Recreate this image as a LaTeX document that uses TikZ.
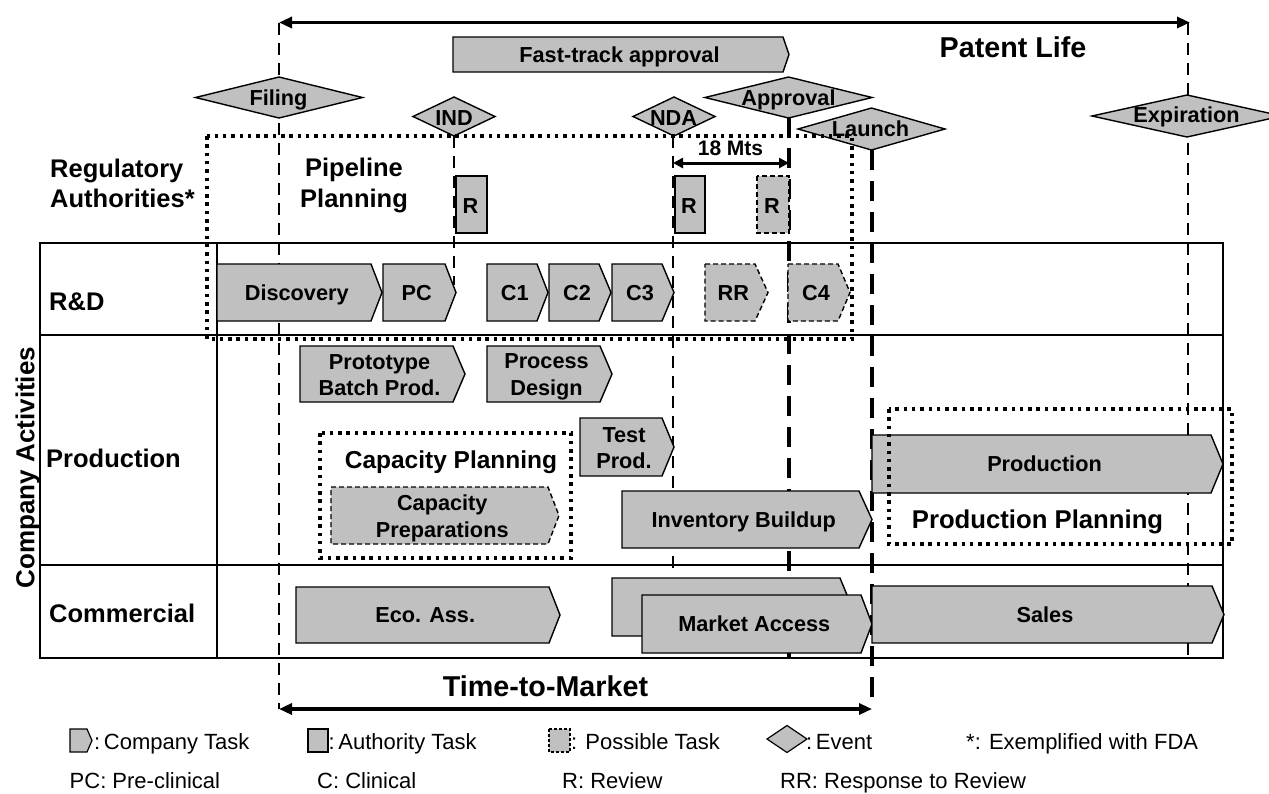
\documentclass[tikz,border=0pt]{standalone}
\usepackage{fontspec}
\setmainfont{Liberation Sans}
\usetikzlibrary{arrows.meta}
\definecolor{taskgray}{HTML}{C0C0C0}

\tikzset{
  tbl/.style={line width=1.3pt, draw=black},
  tbox/.style={draw=black, line width=1.4pt, fill=taskgray, line join=miter},
  tposs/.style={tbox, dash pattern=on 5pt off 3pt},
  evline/.style={line width=2.3pt, dash pattern=on 12pt off 8pt},
  evthick/.style={line width=3.6pt, dash pattern=on 20pt off 11pt},
  dotbox/.style={line width=4pt, dash pattern=on 3.5pt off 4.8pt},
  span/.style={line width=3.2pt, {Triangle[length=13pt,width=11pt]}-{Triangle[length=13pt,width=11pt]}},
  spansmall/.style={line width=3pt, {Triangle[length=10pt,width=10pt]}-{Triangle[length=10pt,width=10pt]}},
  lbS/.style={inner sep=0pt, font=\fontsize{21.7}{26.7}\selectfont\bfseries, text height=15.5pt, text depth=0pt},
  lbSm/.style={inner sep=0pt, font=\fontsize{21.7}{26.7}\selectfont\bfseries, align=center},
  lbM/.style={inner sep=0pt, font=\fontsize{25.5}{31}\selectfont\bfseries, text height=18.3pt, text depth=0pt},
  lbMm/.style={inner sep=0pt, font=\fontsize{25.5}{30.5}\selectfont\bfseries},
  lbL/.style={inner sep=0pt, font=\fontsize{28.7}{34}\selectfont\bfseries, text height=20.5pt, text depth=0pt},
  lg/.style={inner sep=0pt, font=\fontsize{22}{26}\selectfont, text height=15.75pt, text depth=0pt, anchor=west},
}

% chevron task: name, box style, x0, y0, x1 (body end), tip x, y1, label options, label
\newcommand\ctask[9]{%
  \draw[#2] (#3,#4) -- (#5,#4) -- (#6,{(#4+#7)/2}) -- (#5,#7) -- (#3,#7) -- cycle;
  \node[#8] (#1) at ({(2*#3+#5+#6)/4},{(#4+#7)/2}) {#9};
}
% event diamond: name, cx, cy, half width, half height, label x, label y, label
\newcommand\evdia[8]{%
  \draw[tbox] (#2-#4,#3) -- (#2,#3-#5) -- (#2+#4,#3) -- (#2,#3+#5) -- cycle;
  \node[lbS] (#1) at (#6,#7) {#8};
}
% review box: name, box style, x0, y0, x1, y1
\newcommand\rbox[6]{%
  \draw[#2] (#3,#4) rectangle (#5,#6);
  \node[lbS] (#1) at ({(#3+#5)/2-1},{(#4+#6)/2+1.5}) {R};
}

\begin{document}
\begin{tikzpicture}[x=1pt,y=-1pt]
\useasboundingbox (0,0) rectangle (1269,793);

% lane table
\draw[tbl] (40,243) rectangle (1223,658);
\draw[tbl] (40,335) -- (1223,335);
\draw[tbl] (40,565) -- (1223,565);
\draw[tbl] (217,243) -- (217,658);

% time markers
\coordinate (plL) at (279,22.5);
\coordinate (plR) at (1190,22.5);
\coordinate (ttL) at (279,709);
\coordinate (ttR) at (872,709);
\coordinate (expTop) at (1188,22.5);
\coordinate (expBot) at (1188,655);
\coordinate (indTop) at (454,136);
\coordinate (indBot) at (454,285);
\coordinate (ndaTop) at (673,136);
\coordinate (ndaBot) at (673,572);
\coordinate (appTop) at (789,117);
\coordinate (appBot) at (789,658);
\coordinate (lauTop) at (872,150);
\coordinate (lauBot) at (872,705);
\coordinate (mtsL) at (673,163);
\coordinate (mtsR) at (789,163);

\draw[evline] (plL) -- (ttL);
\draw[evline] (expTop) -- (expBot);
\draw[evline] (indTop) -- (indBot);
\draw[evline] (ndaTop) -- (ndaBot);
\draw[evthick] (appTop) -- (appBot);
\draw[evthick] (lauTop) -- (lauBot);

\draw[span] (plL) -- (plR);
\draw[span] (ttL) -- (ttR);
\draw[spansmall] (mtsL) -- (mtsR);

\node[lbL] (patent) at (1013,47.5) {Patent Life};
\node[lbL] (ttm) at (545.5,686) {Time-to-Market};
\node[inner sep=0pt, font=\fontsize{21}{25}\selectfont\bfseries, text height=15pt, text depth=0pt] (mts) at (730.5,148) {18 Mts};

% lane labels
\node[lbMm, anchor=west, align=left] (reg) at (50,183.4) {Regulatory\\Authorities*};
\node[lbM, anchor=west] (rd) at (49,301) {R\&D};
\node[lbM, anchor=west] (prodlane) at (46,458) {Production};
\node[lbM, anchor=west] (comlane) at (49,613) {Commercial};
\node[inner sep=0pt, font=\fontsize{26}{31}\selectfont\bfseries, text height=18.6pt, text depth=0pt, rotate=90] (company) at (25,467.5) {Company Activities};
\node[lbMm, align=center] (pipe) at (354,185.3) {Pipeline\\Planning};

% regulatory tasks
\ctask{fast}{tbox}{453}{37}{783}{789}{72}{lbS}{Fast-track approval}
\rbox{rind}{tbox}{456}{176}{487}{233}
\rbox{rnda}{tbox}{675}{176}{705}{233}
\rbox{rapp}{tposs}{757}{176}{789}{233}

% R&D
\ctask{disc}{tbox}{217}{264}{371}{382}{321}{lbS}{Discovery}
\ctask{pc}{tbox}{383}{264}{445}{456}{321}{lbS}{PC}
\ctask{c1}{tbox}{487}{264}{537}{548}{321}{lbS}{C1}
\ctask{c2}{tbox}{549}{264}{599}{611}{321}{lbS}{C2}
\ctask{c3}{tbox}{612}{264}{662}{674}{321}{lbS}{C3}
\ctask{rr}{tposs}{705}{264}{755}{768}{321}{lbS}{RR}
\ctask{c4}{tposs}{788}{264}{838}{850}{321}{lbS}{C4}

% production
\ctask{proto}{tbox}{300}{346}{453}{465}{402}{lbSm, yshift=-1pt}{Prototype\\Batch Prod.}
\ctask{procdes}{tbox}{487}{346}{600}{612}{402}{lbSm, yshift=-3pt}{Process\\Design}
\ctask{testprod}{tbox}{580}{418}{662}{674}{476}{lbSm, yshift=-1pt}{Test\\Prod.}
\ctask{capprep}{tposs}{331}{487}{548}{559}{544}{lbSm, yshift=-2.6pt}{Capacity\\Preparations}
\ctask{invbuild}{tbox}{622}{491}{859}{872}{548}{lbS}{Inventory Buildup}
\ctask{production}{tbox}{872}{435}{1211}{1223}{493}{lbS}{Production}

% commercial
\ctask{ecoass}{tbox}{296}{587}{549}{560}{643}{lbS}{Eco. Ass.}
\draw[tbox] (612,578) -- (840,578) -- (852,607) -- (840,636) -- (612,636) -- cycle;
\ctask{mkt}{tbox}{642}{595}{861}{872}{653}{lbS}{Market Access}
\ctask{sales}{tbox}{872}{586}{1212}{1224}{643}{lbS}{Sales}

% events
\evdia{filing}{279}{97.5}{83.5}{20.5}{278.5}{98}{Filing}
\evdia{ind}{454}{116.5}{41}{19.5}{454}{117.5}{IND}
\evdia{nda}{674}{116.5}{41}{19.5}{673.5}{117.5}{NDA}
\evdia{approval}{788.5}{97.5}{83.5}{20.5}{788.5}{98}{Approval}
\evdia{launch}{871.5}{129}{73.5}{21}{870.5}{128.7}{Launch}
\evdia{expiration}{1187}{116}{95}{21}{1186.5}{115}{Expiration}

% planning scopes
\draw[dotbox] (207,136) rectangle (852,339);
\draw[dotbox] (320,433) rectangle (571,558);
\draw[dotbox] (889,409) rectangle (1232,544);
\node[inner sep=0pt, font=\fontsize{24.5}{29}\selectfont\bfseries, text height=17.5pt, text depth=0pt] (capplan) at (451,460) {Capacity Planning};
\node[inner sep=0pt, font=\fontsize{25.7}{30}\selectfont\bfseries, text height=18.4pt, text depth=0pt] (prodplan) at (1037.5,519.5) {Production Planning};

% legend
\draw[tbox, line width=1.2pt] (70,729) -- (87,729) -- (92,740.5) -- (87,752) -- (70,752) -- cycle;
\node[lg] (lgcomp) at (94,741.5) {:\,Company Task};
\draw[tbox, line width=1.2pt] (308,729) rectangle (328,752);
\node[lg] (lgauth) at (328.5,741.5) {:\,Authority Task};
\draw[tbox, line width=1.2pt, dash pattern=on 3pt off 2pt] (549,729) rectangle (570,752);
\node[lg] (lgposs) at (571,741.5) {: Possible Task};
\draw[tbox, line width=1.2pt] (767,739) -- (787,725.5) -- (807,739) -- (787,752.5) -- cycle;
\node[lg] (lgevent) at (806,741.5) {:\,Event};
\node[lg] (lgfda) at (966,741.5) {*: Exemplified with FDA};
\node[lg] (lgpc) at (69.5,780.5) {PC: Pre-clinical};
\node[lg] (lgc) at (317,780.5) {C: Clinical};
\node[lg] (lgr) at (562,780.5) {R: Review};
\node[lg] (lgrr) at (780,780.5) {RR: Response to Review};
\end{tikzpicture}
\end{document}
